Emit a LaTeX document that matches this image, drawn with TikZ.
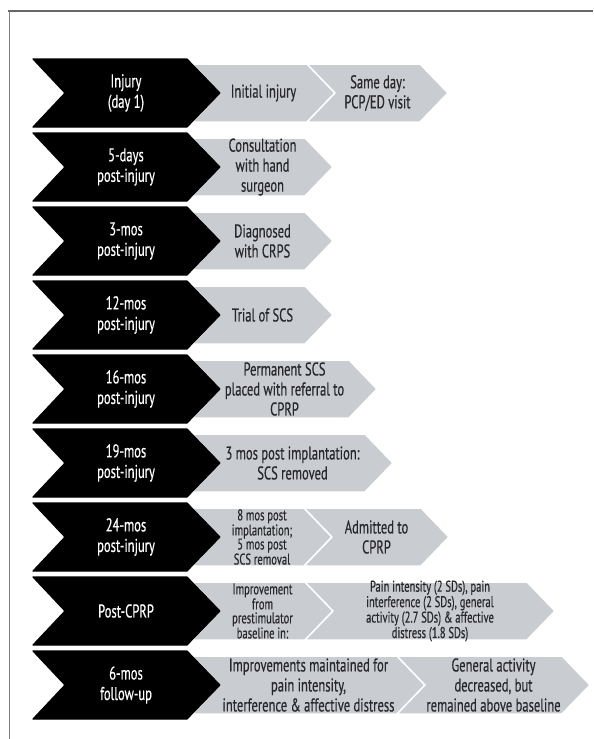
\documentclass[tikz,border=0pt]{standalone}
\usepackage{fontspec}
\setmainfont{PT Sans}[FakeStretch=0.68,FakeBold=0.4]
\definecolor{eventgray}{RGB}{201,204,209}
\definecolor{textgray}{RGB}{40,40,42}
% gray event arrow: name, left x, corner x, row top y, text style, text
\newcommand{\eventbox}[6]{%
  \path[event] (#2,#4+5) -- (#3,#4+5) -- (#3+28,#4+34) -- (#3,#4+63)
    -- (#2,#4+63) -- (#2+28,#4+34) -- cycle;
  \node[#5] (#1) at ({(#2+28+#3)/2},#4+34) {#6};}
\begin{document}
\begin{tikzpicture}[x=1pt,y=-1pt,line join=round,
    time/.style={fill=black,draw=black,line width=1.2pt},
    event/.style={fill=eventgray,draw=white,line width=1.5pt},
    timetext/.style={text=white,align=center,inner sep=0pt,font=\fontsize{18.5}{20.5}\selectfont},
    eventtext/.style={text=textgray,align=center,inner sep=0pt,font=\fontsize{18.5}{20}\selectfont},
    smalltext/.style={eventtext,font=\fontsize{15.5}{14}\selectfont}]
  \useasboundingbox (0,0) rectangle (594,739);
  \draw[gray!80!black,line width=1.5pt] (8,11) -- (593,11);
  \draw[gray,line width=1.2pt] (9.5,11) -- (9.5,739);
  % events
  \eventbox{inj}{192}{307}{59}{eventtext}{Initial injury}
  \eventbox{pcp}{307}{420}{59}{eventtext}{Same day:\\PCP/ED visit}
  \eventbox{hand}{192}{305}{133}{eventtext}{Consultation\\with hand\\surgeon}
  \eventbox{crps}{192}{305}{207}{eventtext}{Diagnosed\\with CRPS}
  \eventbox{trial}{192}{305}{281}{eventtext}{Trial of SCS}
  \eventbox{perm}{192}{349}{355}{eventtext}{Permanent SCS\\placed with referral to\\CPRP}
  \eventbox{removed}{192}{365}{429}{eventtext}{3 mos post implantation:\\SCS removed}
  \eventbox{implant}{192}{304}{503}{smalltext}{8 mos post\\implantation;\\5 mos post\\SCS removal}
  \eventbox{admit}{304}{421}{503}{eventtext}{Admitted to\\CPRP}
  \eventbox{improve}{192}{305}{577}{smalltext}{Improvement\\from\\prestimulator\\baseline in:}
  \eventbox{sds}{305}{527}{577}{smalltext}{Pain intensity (2 SDs), pain\\interference (2 SDs), general\\activity (2.7 SDs) \& affective\\distress (1.8 SDs)}
  \eventbox{kept}{192}{397}{651}{eventtext}{Improvements maintained for\\pain intensity,\\interference \& affective distress}
  \eventbox{activity}{397}{562}{651}{eventtext}{General activity\\decreased, but\\remained above baseline}
  % time line
  \foreach \y/\when [count=\i] in {59/{Injury\\(day 1)}, 133/{5-days\\post-injury},
      207/{3-mos\\post-injury}, 281/{12-mos\\post-injury}, 355/{16-mos\\post-injury},
      429/{19-mos\\post-injury}, 503/{24-mos\\post-injury}, 577/{Post-CPRP},
      651/{6-mos\\follow-up}} {
    \path[time] (33,\y) -- (187,\y) -- (220,\y+34) -- (187,\y+68)
      -- (33,\y+68) -- (65,\y+34) -- cycle;
    \node[timetext] (time\i) at (126,\y+34) {\when};
  }
\end{tikzpicture}
\end{document}
